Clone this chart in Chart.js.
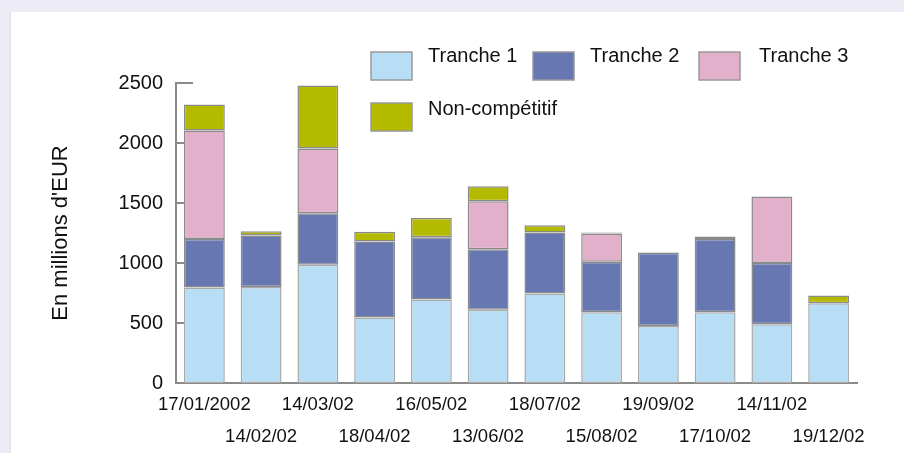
<!DOCTYPE html>
<html>
<head>
<meta charset="utf-8">
<title>Adjudications</title>
<script src="https://cdn.jsdelivr.net/npm/chart.js@4.4.1/dist/chart.umd.min.js"></script>
<style>
  html, body { margin: 0; padding: 0; background: #EDECF6; }
  #wrap { position: relative; width: 904px; height: 453px; }
</style>
</head>
<body>
<div id="wrap"><canvas id="barChart" width="904" height="453"></canvas></div>
<script>
// dates d'adjudication
var dates = ["17/01/2002", "14/02/02", "14/03/02", "18/04/02", "16/05/02", "13/06/02",
             "18/07/02", "15/08/02", "19/09/02", "17/10/02", "14/11/02", "19/12/02"];

// montants en millions d'EUR
var tranche1 = [795, 800, 985, 545, 695, 610, 745, 590, 475, 590, 490, 665];
var tranche2 = [405, 430, 430, 635, 520, 505, 510, 420, 610, 610, 510, null];
var tranche3 = [905, null, 540, null, null, 400, null, 235, null, null, 555, null];
var nonComp  = [215, 35, 525, 80, 160, 125, 60, 10, 5, 20, null, 65];

var yTicks = [0, 500, 1000, 1500, 2000, 2500];

var fontFamily = '"Liberation Sans", Arial, Helvetica, sans-serif';
var axisGrey = '#8a8a8a';

// fond lavande + panneau blanc
var panelBg = {
  id: 'panelBg',
  beforeDraw: function(chart) {
    var ctx = chart.ctx;
    ctx.save();
    ctx.fillStyle = '#EDECF6';
    ctx.fillRect(0, 0, chart.width, chart.height);
    ctx.fillStyle = '#E4E3F0';
    ctx.fillRect(9, 12, 2, chart.height - 12);
    ctx.fillStyle = '#ffffff';
    ctx.fillRect(11, 12, chart.width - 11, chart.height - 12);
    ctx.restore();
  }
};

// petits traits de graduation vers l'interieur
var innerTicks = {
  id: 'innerTicks',
  beforeDatasetsDraw: function(chart) {
    var ctx = chart.ctx;
    var y = chart.scales.y;
    var left = chart.chartArea.left;
    ctx.save();
    ctx.strokeStyle = axisGrey;
    ctx.lineWidth = 2;
    yTicks.forEach(function(v, i) {
      var py = y.getPixelForValue(v);
      var len = (i == yTicks.length - 1) ? 17 : 8;
      ctx.beginPath();
      ctx.moveTo(left, py);
      ctx.lineTo(left + len, py);
      ctx.stroke();
    });
    ctx.restore();
  }
};

// legende dessinee a la main (elle chevauche la zone du graphique)
var legendPos = [
  {box: [371, 52], text: [428, 56]},
  {box: [533, 52], text: [590, 56]},
  {box: [699, 52], text: [759, 56]},
  {box: [371, 103], text: [428, 109]}
];

var customLegend = {
  id: 'customLegend',
  afterDraw: function(chart) {
    var ctx = chart.ctx;
    ctx.save();
    ctx.font = '20px ' + fontFamily;
    ctx.textBaseline = 'middle';
    ctx.textAlign = 'left';
    chart.data.datasets.forEach(function(ds, i) {
      var p = legendPos[i];
      ctx.fillStyle = ds.backgroundColor;
      ctx.fillRect(p.box[0], p.box[1], 41, 28);
      ctx.strokeStyle = '#999999';
      ctx.lineWidth = 1.5;
      ctx.strokeRect(p.box[0], p.box[1], 41, 28);
      ctx.fillStyle = '#111111';
      ctx.fillText(ds.label, p.text[0], p.text[1]);
    });
    ctx.restore();
  }
};

function makeSet(label, data, color, border) {
  return {
    label: label,
    data: data,
    backgroundColor: color,
    borderColor: border,
    borderWidth: 1.5,
    borderSkipped: false,
    barPercentage: 0.72,
    categoryPercentage: 1.0
  };
}

var ctxB = document.getElementById('barChart').getContext('2d');
var myBarChart = new Chart(ctxB, {
  type: 'bar',
  data: {
    labels: dates,
    datasets: [
      makeSet('Tranche 1', tranche1, '#B7DEF5', '#a9a9a9'),
      makeSet('Tranche 2', tranche2, '#6777B2', '#8a8a8a'),
      makeSet('Tranche 3', tranche3, '#E3B0CB', '#8a8a8a'),
      makeSet('Non-compétitif', nonComp, '#B3BA00', '#8a8a8a')
    ]
  },
  options: {
    responsive: false,
    animation: false,
    layout: { padding: { top: 83, right: 47, left: 0, bottom: 0 } },
    plugins: {
      legend: { display: false },
      tooltip: { enabled: false }
    },
    scales: {
      x: {
        stacked: true,
        grid: { display: false, drawTicks: false },
        border: { display: true, color: axisGrey, width: 2 },
        afterFit: function(scale) { scale.height = 70; },
        ticks: {
          autoSkip: false,
          maxRotation: 0,
          minRotation: 0,
          padding: 6,
          color: '#111111',
          font: { family: fontFamily, size: 18.5, lineHeight: 32 / 18.5 },
          callback: function(value, index) {
            var d = dates[index];
            return (index % 2 == 0) ? [d, ''] : ['', d];
          }
        }
      },
      y: {
        stacked: true,
        min: 0,
        max: 2500,
        afterFit: function(scale) { scale.width = 176; },
        grid: { display: false, drawTicks: false },
        border: { display: true, color: axisGrey, width: 2 },
        afterBuildTicks: function(scale) {
          scale.ticks = yTicks.map(function(v) { return { value: v }; });
        },
        ticks: {
          padding: 13,
          color: '#111111',
          font: { family: fontFamily, size: 20 },
          callback: function(value) { return String(value); }
        },
        title: {
          display: true,
          text: "En millions d'EUR",
          color: '#111111',
          font: { family: fontFamily, size: 22 },
          padding: { top: 48, bottom: 0 }
        }
      }
    }
  },
  plugins: [panelBg, innerTicks, customLegend]
});
</script>
</body>
</html>
